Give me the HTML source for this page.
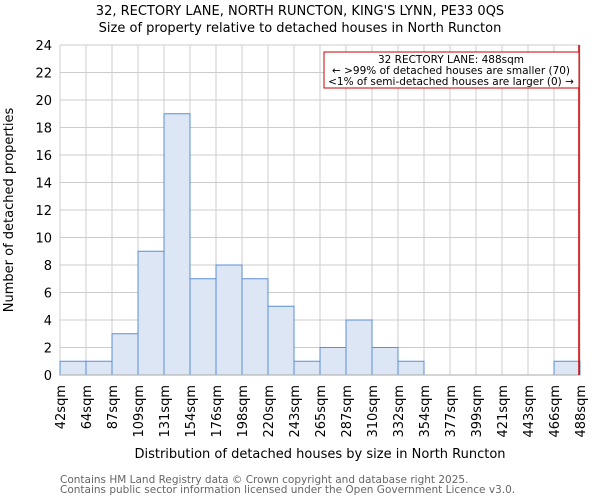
<!DOCTYPE html>
<html><head><meta charset="utf-8"><style>
body{margin:0;background:#fff;font-family:"DejaVu Sans","Liberation Sans",sans-serif;}
svg text{font-family:"DejaVu Sans","Liberation Sans",sans-serif;}
</style></head><body>
<svg id="chart" width="600" height="500" xmlns="http://www.w3.org/2000/svg">
<text x="300" y="15" font-size="13" text-anchor="middle">32, RECTORY LANE, NORTH RUNCTON, KING'S LYNN, PE33 0QS</text>
<text x="300" y="32" font-size="13" text-anchor="middle">Size of property relative to detached houses in North Runcton</text>
<g id="grid"></g>
<g id="bars"></g>
<g id="axes"></g>
<text transform="translate(13,210) rotate(-90)" font-size="13" text-anchor="middle">Number of detached properties</text>
<text x="320" y="458" font-size="13" text-anchor="middle">Distribution of detached houses by size in North Runcton</text>
<text x="60" y="483" font-size="10.5" fill="#666">Contains HM Land Registry data © Crown copyright and database right 2025.</text>
<text x="60" y="493" font-size="10.5" fill="#666">Contains public sector information licensed under the Open Government Licence v3.0.</text>
<line x1="579" y1="45" x2="579" y2="375" stroke="#cc0000" stroke-width="1.5"/>
<rect x="324" y="52" width="255" height="36" fill="#fff" stroke="#cc0000" stroke-width="1"/>
<text x="451" y="63" font-size="10.5" text-anchor="middle">32 RECTORY LANE: 488sqm</text>
<text x="451" y="74" font-size="10.5" text-anchor="middle">← &gt;99% of detached houses are smaller (70)</text>
<text x="451" y="85" font-size="10.5" text-anchor="middle">&lt;1% of semi-detached houses are larger (0) →</text>
</svg>
<script>
const binLabels=["42sqm","64sqm","87sqm","109sqm","131sqm","154sqm","176sqm","198sqm","220sqm","243sqm","265sqm","287sqm","310sqm","332sqm","354sqm","377sqm","399sqm","421sqm","443sqm","466sqm","488sqm"];
const counts=[1,1,3,9,19,7,8,7,5,1,2,4,2,1,0,0,0,0,0,1];
const yTicks=[0,2,4,6,8,10,12,14,16,18,20,22,24];
const NS="http://www.w3.org/2000/svg";
const L=60,R=580,T=45,B=375,YMAX=24;
const bw=(R-L)/counts.length;
const xs=i=>L+i*bw;
const ys=v=>B-(v/YMAX)*(B-T);
function mk(tag,attrs,parent){const e=document.createElementNS(NS,tag);for(const k in attrs)e.setAttribute(k,attrs[k]);parent.appendChild(e);return e;}
const grid=document.getElementById('grid'),bars=document.getElementById('bars'),axes=document.getElementById('axes');
yTicks.forEach(t=>{
 const l=mk('line',{x1:L,x2:R,y1:ys(t),y2:ys(t),stroke:'#cccccc','stroke-width':1},grid);
 
 
 const tx=mk('text',{x:L-8,y:ys(t)+5,'font-size':13,'text-anchor':'end'},axes);
 tx.textContent=t;
 
 
});
binLabels.forEach((lab,i)=>{
 const l=mk('line',{x1:xs(i),x2:xs(i),y1:T,y2:B,stroke:'#cccccc','stroke-width':1},grid);
 
 
 const tx=mk('text',{transform:`translate(${xs(i)+5},385) rotate(-90)`,'font-size':13,'text-anchor':'end'},axes);
 tx.textContent=lab;
 
 
});
counts.forEach((c,i)=>{
 if(c<=0)return;
 const r=mk('rect',{x:xs(i),y:ys(c),width:bw,height:B-ys(c),fill:'#dce6f4',stroke:'#5a8fd6','stroke-width':1},bars);
 
 
});
const ax=mk('line',{x1:L,x2:R,y1:B,y2:B,stroke:'#aaaaaa','stroke-width':1},axes);


</script>
</body></html>
